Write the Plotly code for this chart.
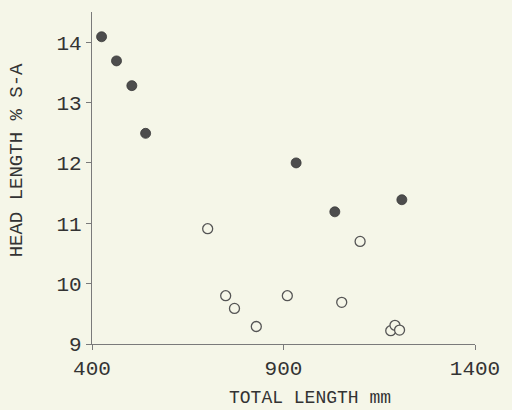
import plotly.graph_objects as go

# Filled circles
filled_x = [425, 464, 504, 540, 933, 1034, 1209]
filled_y = [14.09, 13.69, 13.28, 12.49, 12.0, 11.19, 11.39]

# Open circles
open_x = [702, 749, 772, 829, 910, 1052, 1100, 1180, 1191, 1203]
open_y = [10.91, 9.80, 9.59, 9.29, 9.80, 9.69, 10.70, 9.22, 9.31, 9.23]

x_ticks = [400, 900, 1400]
y_ticks = [9, 10, 11, 12, 13, 14]

BG = "#f5f6e8"
INK = "#333333"
AX = "#7a7a7a"
FONT = "Liberation Mono"

fig = go.Figure()
fig.add_trace(go.Scatter(
    x=open_x, y=open_y, mode="markers",
    marker=dict(symbol="circle", size=10, color=BG,
                line=dict(color="#555555", width=1.3)),
    showlegend=False, cliponaxis=False))
fig.add_trace(go.Scatter(
    x=filled_x, y=filled_y, mode="markers",
    marker=dict(symbol="circle", size=10, color="#4d4d4d",
                line=dict(color="#3a3a3a", width=0.8)),
    showlegend=False, cliponaxis=False))

fig.update_layout(
    width=512, height=410,
    margin=dict(l=92, r=30, t=12, b=66),
    paper_bgcolor=BG, plot_bgcolor=BG,
    font=dict(family=FONT, color=INK, size=19),
    xaxis=dict(range=[400, 1400], tickvals=x_ticks, showgrid=False,
               zeroline=False, showline=True, linecolor=AX, linewidth=1.2,
               ticks="outside", ticklen=5, tickcolor=AX, tickwidth=1.2,
               tickfont=dict(family=FONT, size=21, color=INK)),
    yaxis=dict(range=[9, 14.5], tickvals=y_ticks, showgrid=False,
               zeroline=False, showline=True, linecolor=AX, linewidth=1.2,
               ticks="outside", ticklen=5, tickcolor=AX, tickwidth=1.2,
               tickfont=dict(family=FONT, size=21, color=INK)),
    annotations=[
        dict(text="TOTAL LENGTH mm", xref="paper", yref="paper",
             x=(314 - 92) / (482 - 92), y=-(398 - 344) / 332,
             xanchor="center", yanchor="middle", showarrow=False,
             font=dict(family=FONT, size=18, color=INK)),
        dict(text="HEAD LENGTH % S-A", xref="paper", yref="paper",
             x=-(92 - 16) / 390, y=(344 - 160) / 332, textangle=-90,
             xanchor="center", yanchor="middle", showarrow=False,
             font=dict(family=FONT, size=19, color=INK)),
    ],
)

fig.write_html(
    "out.html",
    config={"displayModeBar": False},
    post_script="document.body.style.margin='0';document.body.style.background='%s';" % BG,
)
